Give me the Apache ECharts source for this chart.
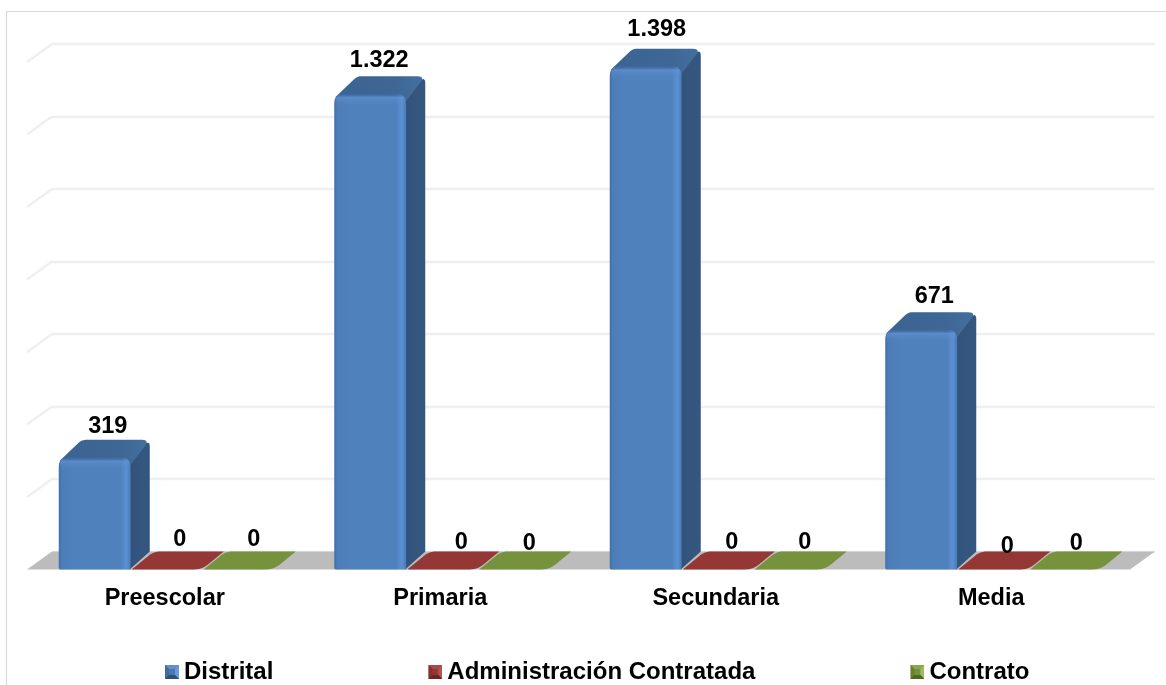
<!DOCTYPE html>
<html>
<head>
<meta charset="utf-8">
<style>html,body{margin:0;padding:0;background:#fff}#c{width:1166px;height:685px}</style>
<script src="https://cdn.jsdelivr.net/npm/echarts@6/dist/echarts.min.js"></script>
</head>
<body>
<div id="c"></div>
<script>
const categories = ['Preescolar', 'Primaria', 'Secundaria', 'Media'];
const distrital = [319, 1322, 1398, 671];
const administracion = [0, 0, 0, 0];
const contrato = [0, 0, 0, 0];
const seriesNames = ['Distrital', 'Administración Contratada', 'Contrato'];
const wallTicks = [200, 400, 600, 800, 1000, 1200, 1400];

// 3D look
const DX = 25, DY = 18, BAR_DX = 20, STEP = 72, BAR_W = 72, FIRST = -106, INSET = 4;
const FONT = '"Liberation Sans", Arial, sans-serif';
// hand-placed labels in the original: small per-label shifts [series][category]
const nudgeX = [[3, -1, 1, 3], [4, 10, 5, 5], [6, 6, 6, 2]];
const nudgeY = [[4, 1, -2, 1], [-2, 1, 1, 5], [-2, 2, 1, 2]];

const palette = [
  { top: '#3f6896', side: '#33547c', base: '#4f81bd' },
  { top: '#953735', side: '#7a2e2c', base: '#953735' },
  { top: '#76923c', side: '#5f7730', base: '#76923c' }
];

function roundPoly(pts, radii) {
  const out = [];
  const n = pts.length;
  for (let i = 0; i < n; i++) {
    const p = pts[i], a = pts[(i + n - 1) % n], b = pts[(i + 1) % n];
    const r = radii[i];
    if (!r) { out.push(p); continue; }
    const la = Math.hypot(a[0] - p[0], a[1] - p[1]), lb = Math.hypot(b[0] - p[0], b[1] - p[1]);
    const s = [p[0] + (a[0] - p[0]) * r / la, p[1] + (a[1] - p[1]) * r / la];
    const e = [p[0] + (b[0] - p[0]) * r / lb, p[1] + (b[1] - p[1]) * r / lb];
    for (let k = 0; k <= 6; k++) {
      const t = k / 6, u = 1 - t;
      out.push([u * u * s[0] + 2 * u * t * p[0] + t * t * e[0], u * u * s[1] + 2 * u * t * p[1] + t * t * e[1]]);
    }
  }
  return out;
}
const poly = (pts, fill) => ({ type: 'polygon', shape: { points: pts }, style: { fill: fill } });
const grad = (x2, y2, stops) => ({ type: 'linear', x: 0, y: 0, x2: x2, y2: y2,
  colorStops: stops.map(s => ({ offset: s[0], color: s[1] })) });

function barRenderer(si) {
  return function (params, api) {
    const cat = api.value(0), v = api.value(1);
    const base = api.coord([cat, 0]);
    const tip = api.coord([cat, v]);
    const y0 = base[1];
    const x = base[0] + FIRST + si * STEP;
    const children = [];
    const c = palette[si];
    let topBack;
    if (v > 0) {
      const w = BAR_W, yt = tip[1] + INSET;
      topBack = yt - DY;
      children.push(poly(roundPoly([[x + w - 6, yt + 4], [x + w + BAR_DX - 1, yt - DY], [x + w + BAR_DX - 1, y0 - DY], [x + w - 1, y0]], [0, 7, 0, 0]),
        grad(1, 0, [[0, '#2f4f78'], [0.5, '#33557e'], [1, '#34567f']])));
      children.push(poly(roundPoly([[x + 12, yt + 8], [x + 1, yt + 3], [x + 23, yt - DY], [x + w + BAR_DX - 1, yt - DY], [x + w - 1, yt + 8]], [0, 0, 4, 8, 0]),
        grad(1, 0, [[0, '#3c6493'], [0.7, '#3e6795'], [1, '#436f9f']])));
      children.push(poly(roundPoly([[x, y0], [x, yt], [x + w, yt], [x + w, y0]], [2, 9, 9, 0]),
        grad(1, 0, [[0, '#3f6ea8'], [0.04, '#4c7db8'], [0.2, '#4f81bd'], [0.86, '#4f81bd'], [0.94, '#5a91d4'], [0.985, '#4d80bb'], [1, '#44709f']])));
      children.push(poly(roundPoly([[x + 1, yt + 13], [x + 1, yt], [x + w - 1, yt], [x + w - 1, yt + 13]], [0, 9, 9, 0]),
        grad(0, 1, [[0, 'rgba(30,60,100,0.35)'], [0.25, 'rgba(100,150,215,0.55)'], [1, 'rgba(79,129,189,0)']])));
    } else {
      const w = 70, zx = x + 1;
      topBack = y0 - DY;
      children.push(poly(roundPoly([[zx, y0], [zx + 22, y0 - DY], [zx + 22 + w, y0 - DY], [zx + w, y0]], [0, 7, 0, 8]), c.base));
    }
    children.push({
      type: 'text', z2: 50,
      style: {
        text: v > 999 ? String(v).replace(/(\d)(\d{3})$/, '$1.$2') : String(v),
        x: x + (v > 0 ? BAR_W : 70) / 2 + 10 + nudgeX[si][cat],
        y: (v > 0 ? topBack - 17 : y0 - 28) + nudgeY[si][cat],
        fill: '#000', font: 'bold 23.5px ' + FONT, align: 'center', verticalAlign: 'middle'
      }
    });
    return { type: 'group', children: children };
  };
}

function floorRenderer(params, api) {
  const cs = params.coordSys;
  const y = api.coord([0, 0])[1];
  return poly([[cs.x, y], [cs.x + DX, y - DY], [cs.x + cs.width + DX + 1, y - DY], [cs.x + cs.width + 1, y]], '#bcbcbc');
}
function wallRenderer(params, api) {
  const cs = params.coordSys;
  const y = api.coord([0, api.value(0)])[1];
  return {
    type: 'line',
    shape: { x1: cs.x, y1: y, x2: cs.x + DX, y2: y - DY },
    style: { stroke: '#efefef', lineWidth: 2.4 }
  };
}

function bevel(mid, t, l, r, b) {
  const svg = "<svg xmlns='http://www.w3.org/2000/svg' width='14' height='14'>" +
    "<rect width='14' height='14' fill='" + mid + "'/>" +
    "<polygon points='0,0 14,0 10,4 4,4' fill='" + t + "'/>" +
    "<polygon points='0,0 4,4 4,10 0,14' fill='" + l + "'/>" +
    "<polygon points='14,0 14,14 10,10 10,4' fill='" + r + "'/>" +
    "<polygon points='0,14 4,10 10,10 14,14' fill='" + b + "'/></svg>";
  return 'image://data:image/svg+xml;charset=utf-8,' + encodeURIComponent(svg);
}

const values = [distrital, administracion, contrato];
const chart = echarts.init(document.getElementById('c'), null, { renderer: 'canvas' });
chart.setOption({
  animation: false,
  backgroundColor: '#fff',
  graphic: [{
    type: 'polyline', silent: true, z: 0,
    shape: { points: [[6.5, 690], [6.5, 11.5], [1170, 11.5]] },
    style: { stroke: '#d9d9d9', lineWidth: 1.2, fill: null }
  }],
  legend: {
    left: 165, top: 660, padding: 0, selectedMode: false, itemWidth: 14, itemHeight: 14, itemGap: 155,
    textStyle: { fontFamily: FONT, fontWeight: 'bold', fontSize: 24, color: '#000' },
    data: [
      { name: seriesNames[0], icon: bevel('#4a78ae', '#5f90c8', '#3f6a9c', '#6a9bd2', '#2f4f78') },
      { name: seriesNames[1], icon: bevel('#953735', '#a84a48', '#843130', '#b45553', '#6b2624') },
      { name: seriesNames[2], icon: bevel('#76923c', '#8aa64e', '#65802f', '#a2bb62', '#51681f') }
    ]
  },
  grid: [
    { left: 27, right: 37, top: 62, bottom: 115.5 },
    { left: 52, right: 11, top: 44, bottom: 133.5 }
  ],
  xAxis: [
    {
      gridIndex: 0, type: 'category', data: categories,
      axisLine: { show: false }, axisTick: { show: false },
      axisLabel: { margin: 17, fontFamily: FONT, fontWeight: 'bold', fontSize: 23.5, color: '#000' }
    },
    { gridIndex: 1, type: 'category', data: categories, show: false }
  ],
  yAxis: [
    { gridIndex: 0, type: 'value', min: 0, max: 1400, interval: 200, show: false, splitLine: { show: false } },
    {
      gridIndex: 1, type: 'value', min: 0, max: 1400, interval: 200,
      axisLine: { show: false }, axisTick: { show: false }, axisLabel: { show: false },
      splitLine: { show: true, lineStyle: { color: '#efefef', width: 2.4 } }
    }
  ],
  series: [
    { type: 'custom', name: 'pared', xAxisIndex: 0, yAxisIndex: 0, z: 1, silent: true,
      data: wallTicks.map(t => [t]), encode: { y: 0 }, renderItem: wallRenderer },
    { type: 'custom', name: 'piso', xAxisIndex: 0, yAxisIndex: 0, z: 2, silent: true,
      data: [[0]], encode: { y: 0 }, renderItem: floorRenderer }
  ].concat([2, 1, 0].map(si => ({
    type: 'custom', name: seriesNames[si], xAxisIndex: 0, yAxisIndex: 0, z: 5 + (si === 0 ? 2 : 0),
    itemStyle: { color: palette[si].base },
    data: categories.map((c, i) => [i, values[si][i]]),
    encode: { x: 0, y: 1 },
    renderItem: barRenderer(si)
  })))
});
</script>
</body>
</html>
